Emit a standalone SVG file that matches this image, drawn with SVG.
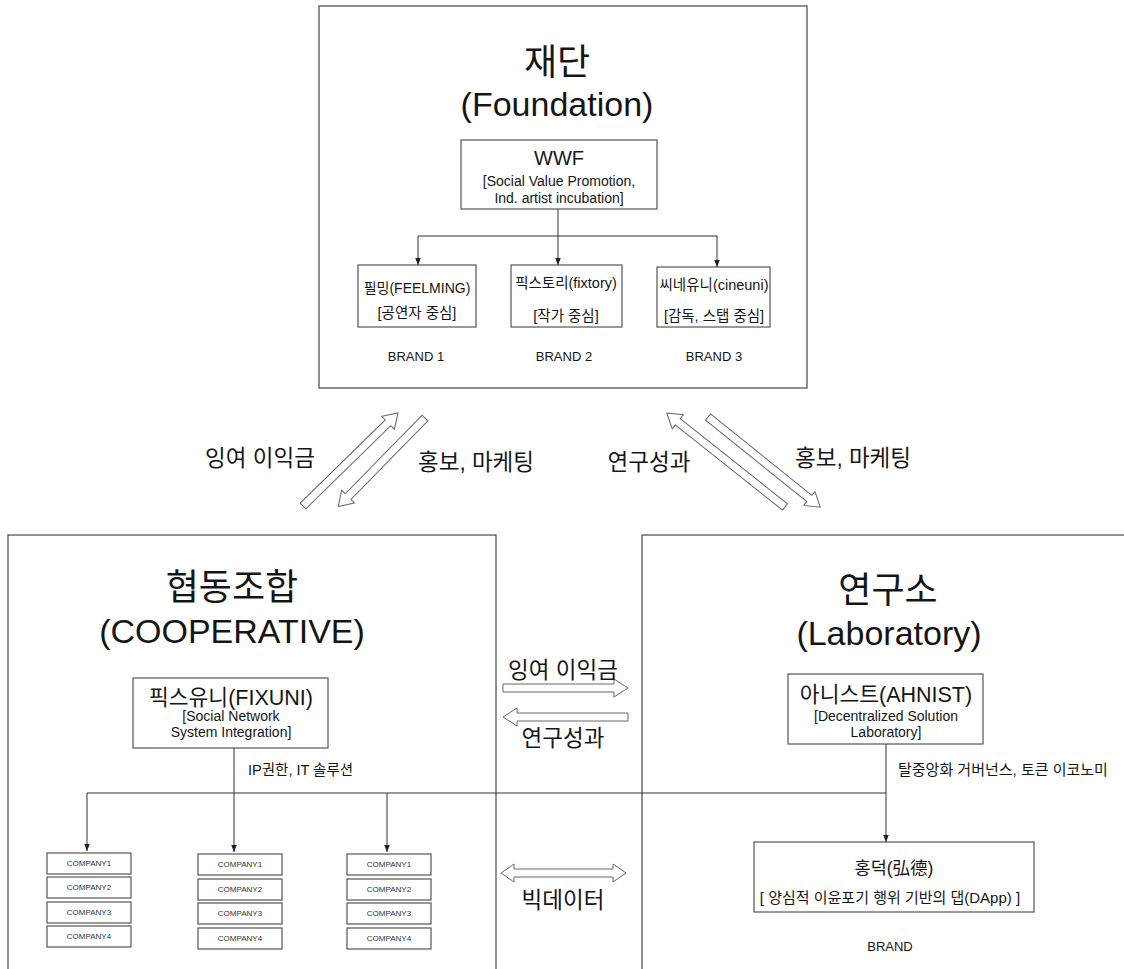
<svg xmlns="http://www.w3.org/2000/svg" width="1124" height="969" viewBox="0 0 1124 969">
<defs>
<style>
text{font-family:"Liberation Sans","Noto Sans CJK KR",sans-serif;fill:#151515;text-anchor:middle}
.box{fill:#fff;stroke:#555;stroke-width:1.2}
.big{fill:#fff;stroke:#555;stroke-width:1.3}
.ln{fill:none;stroke:#333;stroke-width:1}
.fa{fill:#fff;stroke:#666;stroke-width:1}
.t34{font-size:34px}
.k36{font-size:36px}
.t20{font-size:20px}
.k22{font-size:22.5px}
.t21{font-size:21.5px}
.t14{font-size:14px}
.t145{font-size:14.5px}
.t13{font-size:13px}
.t17{font-size:17.5px}
.co{font-size:8px;fill:#333}
.l{text-anchor:start}
</style>
<marker id="ah" viewBox="0 0 10 10" refX="10" refY="5" markerWidth="7" markerHeight="7" orient="auto" markerUnits="userSpaceOnUse">
<path d="M0,1 L10,5 L0,9 Z" fill="#222"/>
</marker>
</defs>
<rect width="1124" height="969" fill="#fff"/>

<g id="foundation">
<rect class="big" x="319" y="6" width="488" height="382"/>
<text class="k36" x="557" y="75">재단</text>
<text class="t34" x="557" y="116">(Foundation)</text>
</g>
<g id="wwf">
<rect class="box" x="461" y="140" width="196" height="69"/>
<text class="t20" x="559" y="165">WWF</text>
<text class="t14" x="559" y="186">[Social Value Promotion,</text>
<text class="t14" x="559" y="203">Ind. artist incubation]</text>
</g>
<g id="brand1">
<rect class="box" x="358" y="265" width="118" height="62"/>
<text class="t14" x="417" y="293">필밍(FEELMING)</text>
<text class="t145" x="417" y="318">[공연자 중심]</text>
<text class="t13" x="416" y="361">BRAND 1</text>
</g>
<g id="brand2">
<rect class="box" x="511" y="265" width="111" height="62"/>
<text class="t145" x="566" y="288">픽스토리(fixtory)</text>
<text class="t145" x="566" y="321">[작가 중심]</text>
<text class="t13" x="564" y="361">BRAND 2</text>
</g>
<g id="brand3">
<rect class="box" x="657" y="267" width="113" height="60"/>
<text class="t145" x="714" y="290">씨네유니(cineuni)</text>
<text class="t145" x="714" y="321">[감독, 스탭 중심]</text>
<text class="t13" x="714" y="361">BRAND 3</text>
</g>

<g id="cooperative">
<rect class="big" x="8" y="535" width="488" height="450"/>
<text class="k36" x="232" y="600">협동조합</text>
<text class="t34" x="232" y="643">(COOPERATIVE)</text>
</g>
<g id="fixuni">
<rect class="box" x="133" y="678" width="195" height="70"/>
<text class="t21" x="231" y="705">픽스유니(FIXUNI)</text>
<text class="t14" x="231" y="721">[Social Network</text>
<text class="t14" x="231" y="737">System Integration]</text>
</g>
<g id="companies1">
<rect class="box" x="47" y="853" width="84" height="21"/><text class="co" x="89" y="866">COMPANY1</text>
<rect class="box" x="47" y="877" width="84" height="21"/><text class="co" x="89" y="890">COMPANY2</text>
<rect class="box" x="47" y="902" width="84" height="21"/><text class="co" x="89" y="915">COMPANY3</text>
<rect class="box" x="47" y="926" width="84" height="21"/><text class="co" x="89" y="939">COMPANY4</text>
</g>
<g id="companies2">
<rect class="box" x="198" y="854" width="84" height="21"/><text class="co" x="240" y="867">COMPANY1</text>
<rect class="box" x="198" y="879" width="84" height="21"/><text class="co" x="240" y="892">COMPANY2</text>
<rect class="box" x="198" y="903" width="84" height="21"/><text class="co" x="240" y="916">COMPANY3</text>
<rect class="box" x="198" y="928" width="84" height="21"/><text class="co" x="240" y="941">COMPANY4</text>
</g>
<g id="companies3">
<rect class="box" x="347" y="854" width="84" height="21"/><text class="co" x="389" y="867">COMPANY1</text>
<rect class="box" x="347" y="879" width="84" height="21"/><text class="co" x="389" y="892">COMPANY2</text>
<rect class="box" x="347" y="903" width="84" height="21"/><text class="co" x="389" y="916">COMPANY3</text>
<rect class="box" x="347" y="928" width="84" height="21"/><text class="co" x="389" y="941">COMPANY4</text>
</g>

<g id="laboratory">
<rect class="big" x="642" y="535" width="500" height="450"/>
<text class="k36" x="888" y="603">연구소</text>
<text class="t34" x="889" y="645">(Laboratory)</text>
</g>
<g id="ahnist">
<rect class="box" x="788" y="674" width="195" height="70"/>
<text class="t21" x="886" y="702">아니스트(AHNIST)</text>
<text class="t14" x="886" y="721">[Decentralized Solution</text>
<text class="t14" x="886" y="737">Laboratory]</text>
</g>
<g id="hongdeok">
<rect class="box" x="754" y="842" width="280" height="70"/>
<text class="t17" x="894" y="874">홍덕(弘德)</text>
<text class="t145" x="890" y="903" style="font-size:15px">[ 양심적 이윤포기 행위 기반의 댑(DApp) ]</text>
<text class="t13" x="890" y="951">BRAND</text>
</g>

<g id="connectors">
<path class="ln" d="M558,209 V265" marker-end="url(#ah)"/>
<path class="ln" d="M558,236 H418 V265" marker-end="url(#ah)"/>
<path class="ln" d="M558,236 H717 V267" marker-end="url(#ah)"/>
<path class="ln" d="M234,748 V852" marker-end="url(#ah)"/>
<path class="ln" d="M234,793 H87 V851" marker-end="url(#ah)"/>
<path class="ln" d="M234,793 H387 V852" marker-end="url(#ah)"/>
<path class="ln" d="M387,793 H886"/>
<path class="ln" d="M886,744 V842" marker-end="url(#ah)"/>

<polygon class="fa" transform="translate(303,506) rotate(-44.4)" points="0,-4 119,-4 119,-9 133,0 119,9 119,4 0,4"/>
<polygon class="fa" transform="translate(425,418) rotate(134.4)" points="0,-4 110,-4 110,-9 124,0 110,9 110,4 0,4"/>
<polygon class="fa" transform="translate(785,507) rotate(-141.5)" points="0,-4 137,-4 137,-9 151,0 137,9 137,4 0,4"/>
<polygon class="fa" transform="translate(708,417) rotate(38.8)" points="0,-4 130,-4 130,-9 144,0 130,9 130,4 0,4"/>
<polygon class="fa" points="503,684 614,684 614,679 628,688 614,697 614,692 503,692"/>
<polygon class="fa" points="628,713 517,713 517,708 503,717 517,726 517,721 628,721"/>
<polygon class="fa" points="501,873 514,864 514,869 613,869 613,864 626,873 613,882 613,877 514,877 514,882"/>

<text class="k22" x="260" y="466">잉여 이익금</text>
<text class="k22 l" x="418" y="470">홍보, 마케팅</text>
<text class="k22" x="649" y="470">연구성과</text>
<text class="k22 l" x="795" y="466">홍보, 마케팅</text>
<text class="k22" x="563" y="678">잉여 이익금</text>
<text class="k22" x="563" y="746">연구성과</text>
<text class="k22" x="563" y="908">빅데이터</text>
<text class="t145 l" x="248" y="775">IP권한, IT 솔루션</text>
<text class="t145 l" x="898" y="775" style="font-size:15px">탈중앙화 거버넌스, 토큰 이코노미</text>
</g>
</svg>
